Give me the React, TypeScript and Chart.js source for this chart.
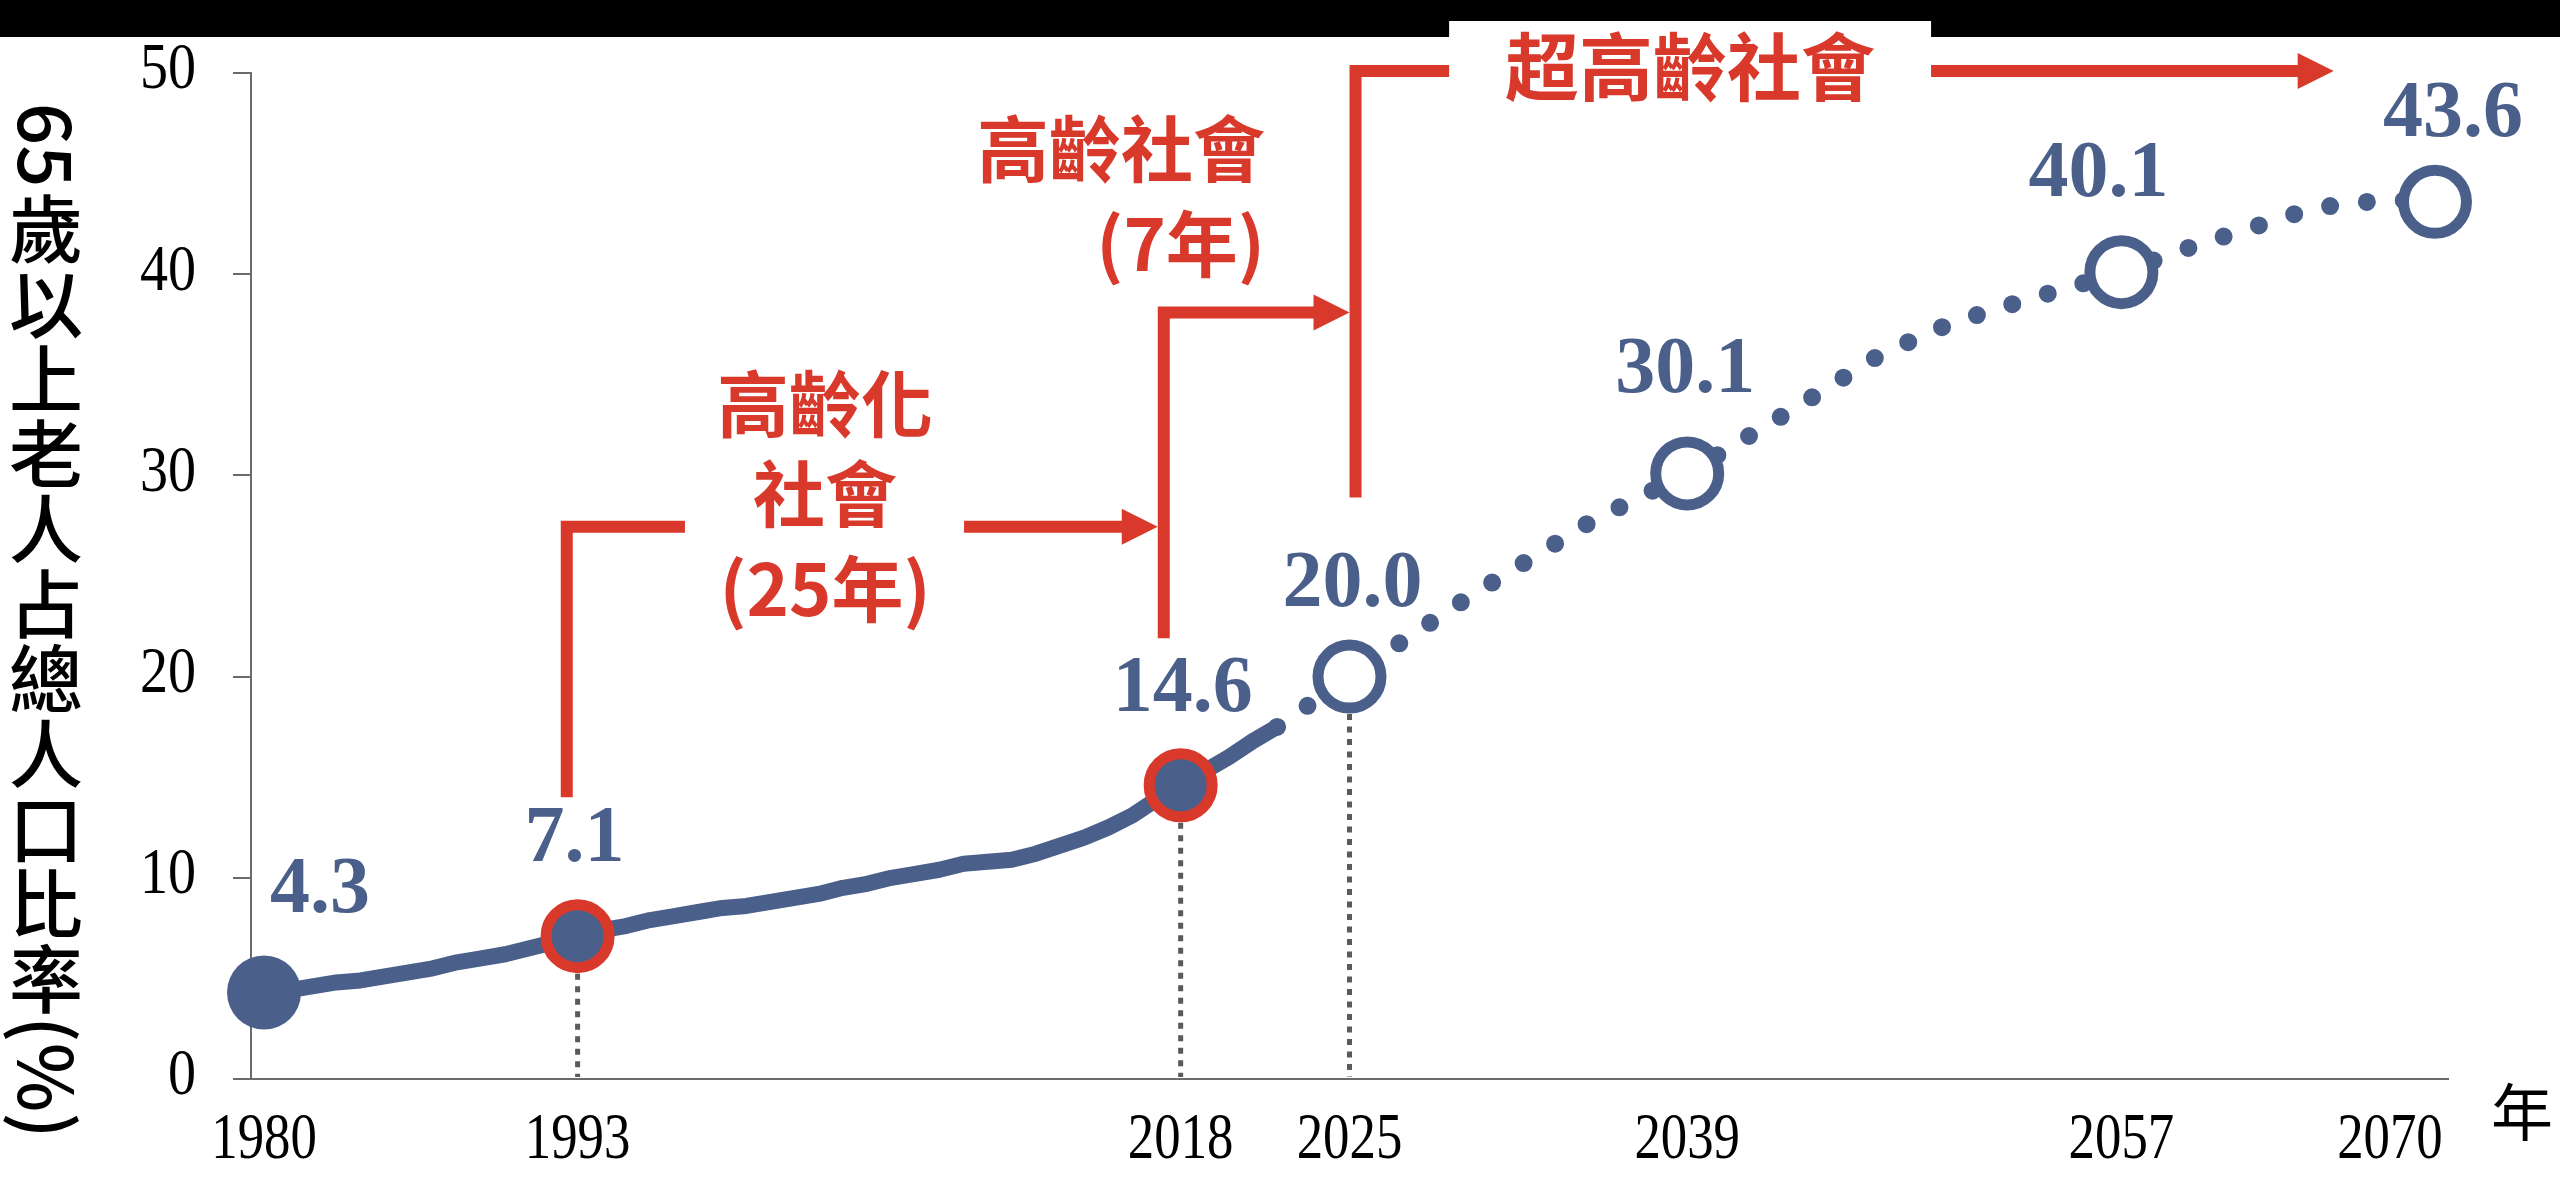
import { useEffect, useRef } from "react";
import { Chart, registerables } from "chart.js";
import type { Plugin } from "chart.js";

Chart.register(...registerables);

// 65歲以上人口比率，1980-2022 實際值
const histYears = [
  1980, 1981, 1982, 1983, 1984, 1985, 1986, 1987, 1988, 1989, 1990, 1991, 1992, 1993, 1994,
  1995, 1996, 1997, 1998, 1999, 2000, 2001, 2002, 2003, 2004, 2005, 2006, 2007, 2008, 2009,
  2010, 2011, 2012, 2013, 2014, 2015, 2016, 2017, 2018, 2019, 2020, 2021, 2022,
];
const histValues = [
  4.3, 4.4, 4.6, 4.8, 4.9, 5.1, 5.3, 5.5, 5.8, 6.0, 6.2, 6.5, 6.8, 7.1, 7.4,
  7.6, 7.9, 8.1, 8.3, 8.5, 8.6, 8.8, 9.0, 9.2, 9.5, 9.7, 10.0, 10.2, 10.4, 10.7,
  10.8, 10.9, 11.2, 11.6, 12.0, 12.5, 13.1, 13.9, 14.6, 15.3, 16.0, 16.8, 17.5,
];

// 推估值
const projYears = [2022, 2025, 2030, 2035, 2039, 2043, 2047, 2050, 2053, 2057, 2060, 2065, 2068, 2070];
const projValues = [17.5, 20.0, 24.0, 27.7, 30.1, 33.0, 36.0, 37.6, 38.7, 40.1, 41.4, 43.3, 43.7, 43.6];

// 標示點
const keyYears = [1980, 1993, 2018, 2025, 2039, 2057, 2070];
const keyValues = [4.3, 7.1, 14.6, 20.0, 30.1, 40.1, 43.6];
const keyKinds = ["solid", "ring", "ring", "open", "open", "open", "open"];
const labelNudges = [
  [56, -101], [-3, -96], [2, -95], [3, -91], [-2, -102], [-23, -97], [18, -86],
];

const xTickYears = [1980, 1993, 2018, 2025, 2039, 2057, 2070];
const dropYears = [1993, 2018, 2025];
const yTitle = ["65", "歲以上老人占總人口比率", "(%)"];

const BLUE = "#4a5f8a";
const RED = "#d9392b";
const GREY = "#5a5a5a";
const AXIS = "#6b6b6b";
const SERIF = '"Liberation Serif", "Times New Roman", serif';
const CJK = '"Noto Sans CJK TC", "Noto Sans", sans-serif';

function condensedText(ctx: CanvasRenderingContext2D, text: string, x: number, y: number, sx: number) {
  ctx.save();
  ctx.translate(x, y);
  ctx.scale(sx, 1);
  ctx.fillText(text, 0, 0);
  ctx.restore();
}

const decorPlugin: Plugin<"line"> = {
  id: "decor",
  beforeDatasetsDraw(chart) {
    const { ctx, chartArea } = chart;
    const xs = chart.scales.x;
    const ys = chart.scales.y;
    ctx.save();
    ctx.strokeStyle = GREY;
    ctx.lineWidth = 5;
    ctx.setLineDash([6, 6.5]);
    dropYears.forEach((yr) => {
      const v = keyValues[keyYears.indexOf(yr)];
      const px = xs.getPixelForValue(yr);
      ctx.beginPath();
      ctx.moveTo(px, ys.getPixelForValue(v));
      ctx.lineTo(px, chartArea.bottom - 2);
      ctx.stroke();
    });
    ctx.restore();
  },
  afterDraw(chart) {
    const { ctx, chartArea } = chart;
    const xs = chart.scales.x;
    const ys = chart.scales.y;
    const X = (yr: number) => xs.getPixelForValue(yr);
    const Y = (v: number) => ys.getPixelForValue(v);
    ctx.save();

    // tick labels
    ctx.fillStyle = "#000";
    ctx.font = `66px ${SERIF}`;
    ctx.textAlign = "right";
    ctx.textBaseline = "middle";
    ys.ticks.forEach((t) => condensedText(ctx, String(t.value), chartArea.left - 55, Y(t.value) - 2, 0.85));
    ctx.textAlign = "center";
    ctx.textBaseline = "alphabetic";
    xs.ticks.forEach((t, i) => {
      // the last year label sits a little left of its point in the source
      const shift = i === xs.ticks.length - 1 ? -45 : 0;
      condensedText(ctx, String(t.value), X(t.value) + shift, chartArea.bottom + 79, 0.8);
    });
    ctx.font = `62px ${CJK}`;
    ctx.textBaseline = "middle";
    ctx.fillText("年", chartArea.right + 74, chartArea.bottom + 33);

    // y title, written vertically
    ctx.font = `500 74px ${CJK}`;
    let cy = chartArea.top + 30;
    const cx = 46;
    yTitle.forEach((seg, i) => {
      if (i === 1) {
        ctx.textAlign = "center";
        for (const ch of seg) {
          ctx.fillText(ch, cx, cy + 37.5);
          cy += 75;
        }
      } else {
        ctx.save();
        ctx.translate(cx, cy);
        ctx.rotate(Math.PI / 2);
        ctx.textAlign = "left";
        ctx.fillText(seg, 0, 0);
        ctx.restore();
        cy += ctx.measureText(seg).width + 4;
      }
    });

    // value labels
    const pts = chart.getDatasetMeta(0).data;
    ctx.fillStyle = BLUE;
    ctx.font = `bold 80px ${SERIF}`;
    ctx.textAlign = "center";
    ctx.textBaseline = "middle";
    pts.forEach((p, i) => {
      const [dx, dy] = labelNudges[i];
      ctx.fillText(keyValues[i].toFixed(1), p.x + dx, p.y + dy);
    });

    // stage brackets and arrows
    ctx.strokeStyle = RED;
    ctx.fillStyle = RED;
    ctx.lineWidth = 12;
    ctx.lineJoin = "miter";
    ctx.lineCap = "butt";
    const elbow = (at: number, from: number, to: number, tip: number) => {
      const x0 = X(at);
      const yb = Y(from);
      const yt = Y(to);
      ctx.beginPath();
      ctx.moveTo(x0, yb);
      ctx.lineTo(x0, yt);
      ctx.lineTo(tip - 34, yt);
      ctx.stroke();
      ctx.beginPath();
      ctx.moveTo(tip - 36, yt - 18);
      ctx.lineTo(tip, yt);
      ctx.lineTo(tip - 36, yt + 18);
      ctx.closePath();
      ctx.fill();
    };
    elbow(1992.55, 14.0, 27.45, X(2017.3) - 6);
    elbow(2017.3, 21.9, 38.1, X(2025.25) - 6);
    elbow(2025.25, 28.9, 50.1, X(2065.8));

    // frame band on top
    ctx.fillStyle = "#000";
    ctx.fillRect(0, 0, chart.width, 37);

    // text boxes
    ctx.fillStyle = "#fff";
    ctx.fillRect(X(1997.45), Y(35.7), X(2009.02) - X(1997.45), Y(22.3) - Y(35.7));
    ctx.fillRect(X(2029.13), 21, X(2049.11) - X(2029.13), Y(48.4) - 21);

    ctx.fillStyle = RED;
    ctx.font = `bold 72px ${CJK}`;
    ctx.textAlign = "center";
    ctx.fillText("高齡化", X(2003.26), Y(33.58));
    ctx.fillText("社會", X(2003.26), Y(29.1));
    ctx.fillText("(25年)", X(2003.26), Y(24.38));
    ctx.textAlign = "right";
    ctx.fillText("高齡社會", X(2021.5), Y(46.25));
    ctx.fillText("(7年)", X(2021.5), Y(41.53));
    ctx.font = `bold 74px ${CJK}`;
    ctx.textAlign = "center";
    ctx.fillText("超高齡社會", X(2039.12), Y(50.3));

    ctx.restore();
  },
};

export default function App() {
  const canvasRef = useRef<HTMLCanvasElement | null>(null);

  useEffect(() => {
    if (!canvasRef.current) return;

    const chart = new Chart(canvasRef.current, {
      type: "line",
      data: {
        datasets: [
          {
            data: keyYears.map((x, i) => ({ x, y: keyValues[i] })),
            showLine: false,
            pointRadius: keyKinds.map((k) => (k === "solid" ? 37 : 31.5)),
            pointBorderWidth: keyKinds.map((k) => (k === "solid" ? 0 : 11)),
            pointBackgroundColor: keyKinds.map((k) => (k === "open" ? "#fff" : BLUE)),
            pointBorderColor: keyKinds.map((k) => (k === "ring" ? RED : BLUE)),
            clip: false,
            order: 0,
          },
          {
            data: histYears.map((x, i) => ({ x, y: histValues[i] })),
            borderColor: BLUE,
            borderWidth: 16,
            borderCapStyle: "round",
            borderJoinStyle: "round",
            pointRadius: 0,
            tension: 0,
            clip: false,
            order: 1,
          },
          {
            data: projYears.map((x, i) => ({ x, y: projValues[i] })),
            borderColor: BLUE,
            borderWidth: 18,
            borderDash: [0, 37],
            borderCapStyle: "round",
            borderJoinStyle: "round",
            pointRadius: 0,
            tension: 0,
            clip: false,
            order: 2,
          },
        ],
      },
      options: {
        responsive: true,
        maintainAspectRatio: false,
        animation: false,
        events: [],
        layout: { padding: { left: 233, right: 112, top: 73, bottom: 100 } },
        plugins: {
          legend: { display: false },
          tooltip: { enabled: false },
        },
        scales: {
          x: {
            type: "linear",
            min: 1979.46,
            max: 2070.54,
            afterBuildTicks: (scale) => {
              scale.ticks = xTickYears.map((value) => ({ value }));
            },
            ticks: { display: false },
            grid: { display: false, drawTicks: false },
            border: { display: true, color: AXIS, width: 2 },
          },
          y: {
            min: 0,
            max: 50,
            ticks: { display: false, stepSize: 10 },
            grid: { drawOnChartArea: false, drawTicks: true, tickLength: 18, color: AXIS, lineWidth: 2 },
            border: { display: true, color: AXIS, width: 2 },
          },
        },
      },
      plugins: [decorPlugin],
    });

    return () => chart.destroy();
  }, []);

  return (
    <div style={{ position: "fixed", inset: 0, background: "#fff" }}>
      <canvas ref={canvasRef} aria-label="65歲以上老人占總人口比率" />
    </div>
  );
}
